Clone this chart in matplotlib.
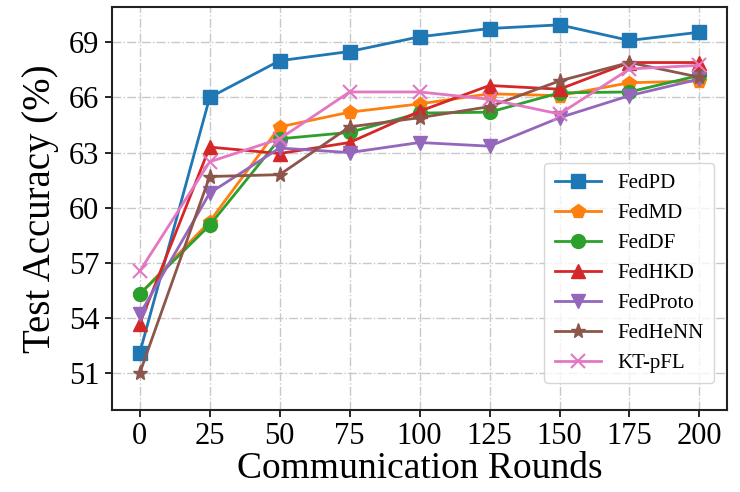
import matplotlib
matplotlib.use("Agg")
import matplotlib.pyplot as plt

rounds = [0, 25, 50, 75, 100, 125, 150, 175, 200]
fedpd    = [52.1, 66.0, 68.0, 68.5, 69.3, 69.75, 69.95, 69.1, 69.55]
fedmd    = [55.3, 59.25, 64.4, 65.2, 65.65, 66.2, 66.1, 66.8, 66.9]
feddf    = [55.3, 59.05, 63.75, 64.1, 65.15, 65.2, 66.25, 66.3, 67.2]
fedhkd   = [53.7, 63.3, 62.95, 63.55, 65.25, 66.65, 66.45, 67.9, 67.9]
fedproto = [54.2, 60.8, 63.25, 63.0, 63.55, 63.35, 64.9, 66.1, 67.0]
fedhenn  = [51.0, 61.7, 61.8, 64.4, 64.9, 65.5, 66.9, 67.9, 67.1]
ktpfl    = [56.55, 62.5, 63.75, 66.3, 66.3, 65.9, 65.1, 67.55, 67.75]

labels = ["FedPD", "FedMD", "FedDF", "FedHKD", "FedProto", "FedHeNN", "KT-pFL"]
series = [fedpd, fedmd, feddf, fedhkd, fedproto, fedhenn, ktpfl]
markers = ["s", "p", "o", "^", "v", "*", "x"]
colors = ["#1f77b4", "#ff7f0e", "#2ca02c", "#d62728", "#9467bd", "#8c564b", "#e377c2"]
yticks = [51, 54, 57, 60, 63, 66, 69]

plt.rcParams['font.family'] = ['Liberation Serif', 'DejaVu Serif']
plt.rcParams['mathtext.fontset'] = 'stix'

fig = plt.figure(figsize=(7.4, 4.92), dpi=100)
ax = fig.add_axes([0.151, 0.1667, 0.832, 0.8183])

for lab, ys, m, c in zip(labels, series, markers, colors):
    ms = 11 if m == "*" else 10
    ax.plot(rounds, ys, marker=m, color=c, label=lab, linewidth=2,
            markersize=ms, markeredgewidth=1.5 if m == "x" else 1.0)

ax.set_xlim(-10, 210)
ax.set_ylim(49.0, 70.9)
ax.set_xticks(rounds)
ax.set_yticks(yticks)
ax.tick_params(labelsize=22, width=1.2, length=5, pad=4)
ax.grid(True, linestyle='-.', color='#c8c8c8', linewidth=1.0)
ax.set_axisbelow(True)
for s in ax.spines.values():
    s.set_linewidth(1.5)
    s.set_color('#222222')

ax.set_xlabel("Communication Rounds", fontsize=27, labelpad=0)
ax.set_ylabel("Test Accuracy (%)", fontsize=28, labelpad=7)

leg = ax.legend(loc='lower right', bbox_to_anchor=(0.995, 0.04), fontsize=15,
                labelspacing=0.5, handlelength=2.2, borderpad=0.5, fancybox=True,
                framealpha=0.8)

fig.savefig("out.png", dpi=100)
